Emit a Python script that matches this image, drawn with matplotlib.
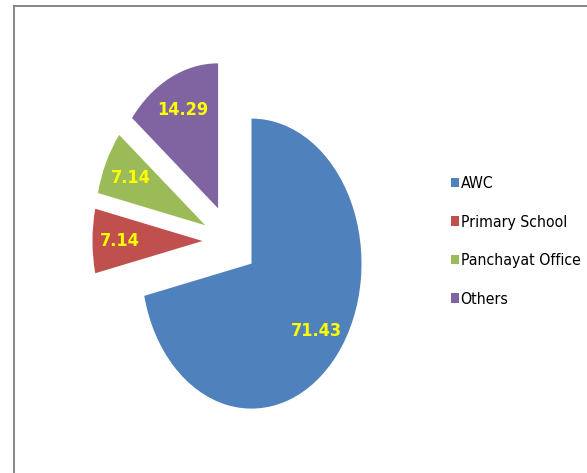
import matplotlib
matplotlib.use("Agg")
import matplotlib.pyplot as plt
from matplotlib.lines import Line2D

# data
labels = ["AWC", "Primary School", "Panchayat Office", "Others"]
values = [71.43, 7.14, 7.14, 14.29]
colors = ["#4F81BD", "#C0504D", "#9BBB59", "#8064A2"]

W, H = 587, 473
fig = plt.figure(figsize=(W / 100, H / 100), dpi=100)
fig.patch.set_facecolor("white")

# pie spans the whole figure, x squeezed so the pie looks like a tall ellipse
ax = fig.add_axes([0, 0, 1, 1])
wedges, texts, autotexts = ax.pie(values, explode=[0.25] * 4, colors=colors,
                                  startangle=90, counterclock=False,
                                  autopct="%.2f", pctdistance=0.75,
                                  wedgeprops=dict(linewidth=0))
for t in autotexts:
    t.set_color("#FFFF00")
    t.set_fontweight("bold")
    t.set_fontsize(13)
    t.set_fontstretch("condensed")

rx, ry = 110.0, 145.0   # pixels per unit radius
cx, cy = 230.0, 241.0   # pie centre, pixels from top-left
ax.set_aspect("auto")
ax.set_xlim(-cx / rx, (W - cx) / rx)
ax.set_ylim(-(H - cy) / ry, cy / ry)
ax.axis("off")

leg = fig.legend(wedges, labels, loc="upper left",
                 bbox_to_anchor=(437 / W, 1 - 162 / H),
                 frameon=False, labelspacing=1.5,
                 handlelength=0.48, handleheight=0.55, handletextpad=0.12,
                 prop=dict(stretch="condensed", size=11.3))

# chart area border (only top and left are visible in the crop)
fig.add_artist(Line2D([13.5 / W, 13.5 / W], [0, 1 - 6 / H], color="#868686", lw=1.4))
fig.add_artist(Line2D([13.5 / W, 1], [1 - 6 / H, 1 - 6 / H], color="#868686", lw=1.4))

plt.savefig("out.png", dpi=100)
